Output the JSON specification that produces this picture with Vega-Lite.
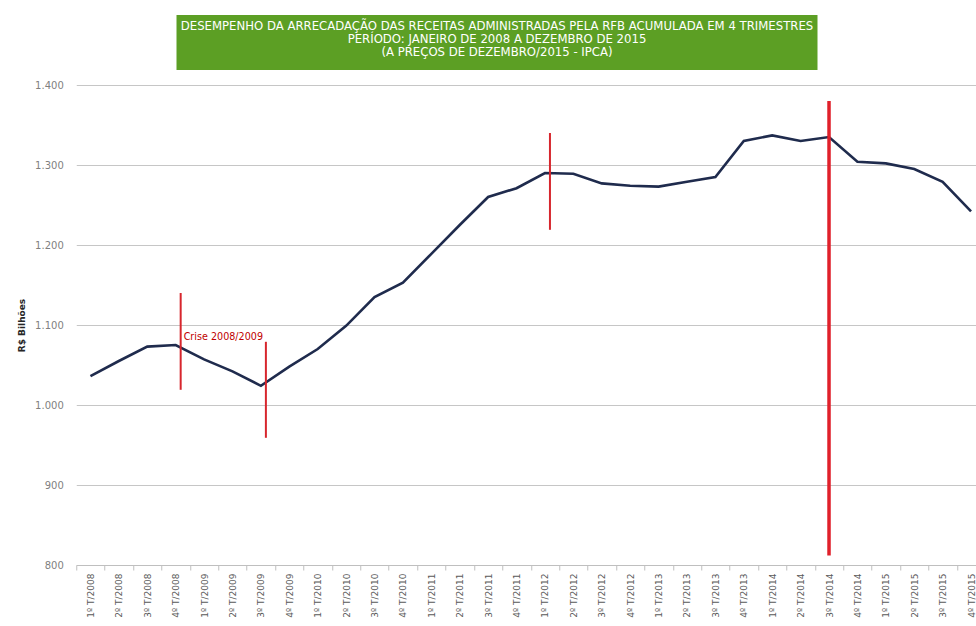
{
  "$schema": "https://vega.github.io/schema/vega-lite/v6.json",
  "background": "white",
  "padding": {"left": 17, "top": 15, "right": -10, "bottom": 0},
  "autosize": {"type": "pad"},
  "center": true,
  "spacing": 10,
  "datasets": {
    "serie": [
      {"trimestre": "1º T/2008", "valor": 1036},
      {"trimestre": "2º T/2008", "valor": 1055},
      {"trimestre": "3º T/2008", "valor": 1073},
      {"trimestre": "4º T/2008", "valor": 1075},
      {"trimestre": "1º T/2009", "valor": 1057},
      {"trimestre": "2º T/2009", "valor": 1042},
      {"trimestre": "3º T/2009", "valor": 1024},
      {"trimestre": "4º T/2009", "valor": 1048},
      {"trimestre": "1º T/2010", "valor": 1070},
      {"trimestre": "2º T/2010", "valor": 1099},
      {"trimestre": "3º T/2010", "valor": 1135},
      {"trimestre": "4º T/2010", "valor": 1153},
      {"trimestre": "1º T/2011", "valor": 1189},
      {"trimestre": "2º T/2011", "valor": 1225},
      {"trimestre": "3º T/2011", "valor": 1260},
      {"trimestre": "4º T/2011", "valor": 1271},
      {"trimestre": "1º T/2012", "valor": 1290},
      {"trimestre": "2º T/2012", "valor": 1289},
      {"trimestre": "3º T/2012", "valor": 1277},
      {"trimestre": "4º T/2012", "valor": 1274},
      {"trimestre": "1º T/2013", "valor": 1273},
      {"trimestre": "2º T/2013", "valor": 1279},
      {"trimestre": "3º T/2013", "valor": 1285},
      {"trimestre": "4º T/2013", "valor": 1330},
      {"trimestre": "1º T/2014", "valor": 1337},
      {"trimestre": "2º T/2014", "valor": 1330},
      {"trimestre": "3º T/2014", "valor": 1335},
      {"trimestre": "4º T/2014", "valor": 1304},
      {"trimestre": "1º T/2015", "valor": 1302},
      {"trimestre": "2º T/2015", "valor": 1295},
      {"trimestre": "3º T/2015", "valor": 1279},
      {"trimestre": "4º T/2015", "valor": 1242}
    ],
    "marcos": [
      {"trimestre": "4º T/2008", "inicio": 1019, "fim": 1140, "tipo": "crise"},
      {"trimestre": "3º T/2009", "inicio": 959, "fim": 1079, "tipo": "crise"},
      {"trimestre": "1º T/2012", "inicio": 1219, "fim": 1340, "tipo": "crise"},
      {"trimestre": "3º T/2014", "inicio": 812, "fim": 1380, "tipo": "destaque"}
    ],
    "notas": [
      {"trimestre": "4º T/2008", "valor": 1085, "texto": "Crise 2008/2009"}
    ],
    "titulo": [
      {"linhas": ["DESEMPENHO DA ARRECADAÇÃO  DAS RECEITAS ADMINISTRADAS PELA RFB ACUMULADA EM 4 TRIMESTRES", "PERÍODO: JANEIRO DE 2008 A DEZEMBRO DE 2015", "(A PREÇOS DE DEZEMBRO/2015  - IPCA)"]}
    ]
  },
  "vconcat": [
    {
      "spacing": 0,
      "hconcat": [
        {
          "width": 641,
          "height": 55,
          "data": {"name": "titulo"},
          "layer": [
            {"mark": {"type": "rect", "fill": "#5c9f24"}, "encoding": {}},
            {
              "mark": {"type": "text", "color": "white", "font": "DejaVu Sans", "fontSize": 11.7, "lineHeight": 13, "align": "center", "baseline": "middle", "dy": -17},
              "encoding": {"text": {"field": "linhas"}}
            }
          ]
        },
        {
          "width": 68,
          "height": 55,
          "data": {"values": []},
          "mark": {"type": "point", "opacity": 0},
          "encoding": {}
        }
      ]
    },
    {
      "width": 909,
      "height": 480,
      "layer": [
        {
          "data": {"name": "serie"},
          "mark": {"type": "line", "color": "#1f2b4d", "strokeWidth": 2.6},
          "encoding": {
            "x": {
              "field": "trimestre", "type": "nominal", "sort": null,
              "scale": {"paddingInner": 0, "paddingOuter": 0},
              "axis": {
                "title": null, "labelAngle": -90, "labelFont": "DejaVu Sans", "labelFontSize": 9,
                "labelColor": "#595959", "labelPadding": 3, "tickBand": "extent", "tickSize": 5,
                "tickColor": "#bfbfbf", "domainColor": "#bfbfbf", "grid": false
              }
            },
            "y": {
              "field": "valor", "type": "quantitative",
              "scale": {"domain": [800, 1400], "zero": false, "nice": false},
              "axis": {
                "title": "R$ Bilhões", "titleFont": "DejaVu Sans", "titleFontSize": 9, "titleFontWeight": "bold",
                "titleColor": "#262626", "titlePadding": 8,
                "values": [800, 900, 1000, 1100, 1200, 1300, 1400],
                "labelExpr": "replace(format(datum.value, ','), ',', '.')",
                "labelFont": "DejaVu Sans", "labelFontSize": 10, "labelColor": "#7f7f7f", "labelPadding": 13,
                "ticks": false, "domain": false, "gridColor": "#c6c6c6", "gridWidth": 1
              }
            }
          }
        },
        {
          "data": {"name": "marcos"},
          "transform": [{"filter": "datum.tipo == 'crise'"}],
          "mark": {"type": "rule", "color": "#d7262d", "strokeWidth": 2, "xOffset": 5},
          "encoding": {
            "x": {"field": "trimestre", "type": "nominal", "sort": null},
            "y": {"field": "inicio", "type": "quantitative"},
            "y2": {"field": "fim"}
          }
        },
        {
          "data": {"name": "marcos"},
          "transform": [{"filter": "datum.tipo == 'destaque'"}],
          "mark": {"type": "rule", "color": "#e0202a", "strokeWidth": 3.5},
          "encoding": {
            "x": {"field": "trimestre", "type": "nominal", "sort": null},
            "y": {"field": "inicio", "type": "quantitative"},
            "y2": {"field": "fim"}
          }
        },
        {
          "data": {"name": "notas"},
          "mark": {"type": "text", "align": "left", "baseline": "middle", "dx": 8, "font": "DejaVu Sans", "fontSize": 9.6, "color": "#c00000"},
          "encoding": {
            "x": {"field": "trimestre", "type": "nominal", "sort": null},
            "y": {"field": "valor", "type": "quantitative"},
            "text": {"field": "texto"}
          }
        }
      ]
    }
  ],
  "config": {
    "view": {"stroke": null}
  }
}
